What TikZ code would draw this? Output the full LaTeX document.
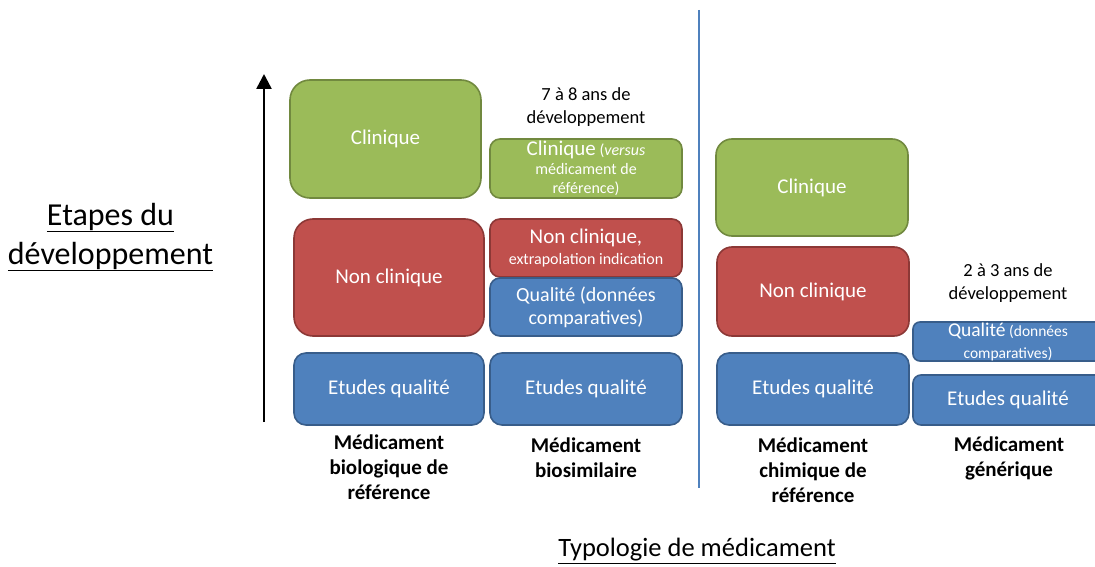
\documentclass[tikz,border=0pt]{standalone}
\usepackage{fontspec}
\setmainfont{Carlito}
\usetikzlibrary{arrows.meta}
\definecolor{grF}{HTML}{9BBB59}\definecolor{grD}{HTML}{71893F}
\definecolor{rdF}{HTML}{C0504D}\definecolor{rdD}{HTML}{8C3836}
\definecolor{blF}{HTML}{4F81BD}\definecolor{blD}{HTML}{385D8A}
\newcommand{\fs}[2]{\fontsize{#1}{#2}\selectfont}
\tikzset{
  box/.style={draw, line width=1.6pt, inner sep=0pt, align=center, text=white,
    font=\fs{21}{24}},
  gbox/.style={box, fill=grF, draw=grD},
  rbox/.style={box, fill=rdF, draw=rdD},
  bbox/.style={box, fill=blF, draw=blD},
  lab/.style={align=center, font=\bfseries\fs{21}{25}},
  dur/.style={align=center, font=\fs{18.5}{23}},
  axlab/.style={align=center, inner sep=0pt}
}
\begin{document}
\begin{tikzpicture}[x=1pt,y=-1pt]
\useasboundingbox (0,0) rectangle (1095,567);
\clip (0,0) rectangle (1095,567);
% biological reference
\node[gbox, minimum width=191pt, minimum height=118pt, rounded corners=20pt] (bc) at (385.5,139) {\raisebox{-2pt}{Clinique}};
\node[rbox, minimum width=190pt, minimum height=117pt, rounded corners=19pt] (bn) at (389,277.5) {\raisebox{-2pt}{Non clinique}};
\node[bbox, minimum width=190pt, minimum height=72pt, rounded corners=12pt] (be) at (389,389) {\raisebox{-2pt}{Etudes qualité}};
% biosimilar
\node[gbox, minimum width=192pt, minimum height=59pt, rounded corners=10pt, font=\fs{16}{19}] (sc) at (586,168.5) {{\fs{21}{19}Clinique} (\textit{versus}\\médicament de\\référence)};
\node[rbox, minimum width=192pt, minimum height=58pt, rounded corners=10pt, font=\fs{21}{21}] (sn) at (586,248) {Non clinique,\\{\fs{16}{19}extrapolation indication}};
\node[bbox, minimum width=192pt, minimum height=58pt, rounded corners=10pt, font=\fs{20}{23}] (sq) at (586,307) {Qualité (données\\comparatives)};
\node[bbox, minimum width=192pt, minimum height=72pt, rounded corners=12pt] (se) at (586,389) {\raisebox{-2pt}{Etudes qualité}};
% chemical reference
\node[gbox, minimum width=192pt, minimum height=97pt, rounded corners=16pt] (cc) at (812,187.5) {\raisebox{-2pt}{Clinique}};
\node[rbox, minimum width=192pt, minimum height=89pt, rounded corners=15pt] (cn) at (813,291.5) {\raisebox{-2pt}{Non clinique}};
\node[bbox, minimum width=192pt, minimum height=72pt, rounded corners=12pt] (ce) at (813,389) {\raisebox{-2pt}{Etudes qualité}};
% generic
\node[bbox, minimum width=190pt, minimum height=39pt, rounded corners=7pt, font=\fs{15.5}{22}] (gq) at (1008,341.5) {{\fs{19.5}{22}Qualité} (données\\comparatives)};
\node[bbox, minimum width=190pt, minimum height=50pt, rounded corners=8pt] (ge) at (1008,400) {\raisebox{-2pt}{Etudes qualité}};
% durations
\node[dur] (d1) at (586,107.5) {7 à 8 ans de\\développement};
\node[dur] (d2) at (1008,283.5) {2 à 3 ans de\\développement};
% column labels
\node[lab] (l1) at (389,467.5) {Médicament\\biologique de\\référence};
\node[lab] (l2) at (586,458) {Médicament\\biosimilaire};
\node[lab] (l3) at (813,470.5) {Médicament\\chimique de\\référence};
\node[lab] (l4) at (1009,458.5) {Médicament\\générique};
% separator
\coordinate (vt) at (699,10);
\coordinate (vb) at (699,488);
\draw[blF, line width=1.5pt] (vt) -- (vb);
% axis arrow
\coordinate (ab) at (264,422);
\coordinate (at) at (264,74);
\draw[line width=2.5pt, -{Triangle[length=15pt,width=15pt]}] (ab) -- (at);
% axis labels
\node[axlab, font=\fs{32}{39}] (ey) at (110.5,237) {\underline{Etapes du}\\\underline{développement}};
\node[axlab, font=\fs{26.5}{30}] (ex) at (697,551) {\underline{Typologie de médicament}};
\end{tikzpicture}
\end{document}
